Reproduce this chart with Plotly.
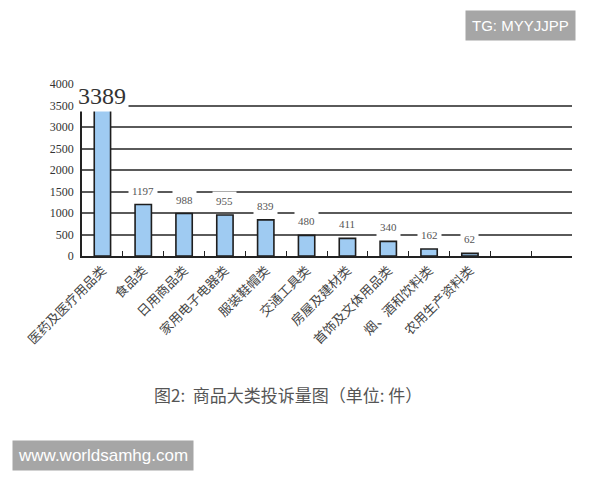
import plotly.graph_objects as go

categories = ["医药及医疗用品类", "食品类", "日用商品类", "家用电子电器类", "服装鞋帽类",
              "交通工具类", "房屋及建材类", "首饰及文体用品类", "烟、酒和饮料类", "农用生产资料类"]
values = [3389, 1197, 988, 955, 839, 480, 411, 340, 162, 62]
empty_slots = [" ", "  "]
y_ticks = [0, 500, 1000, 1500, 2000, 2500, 3000, 3500, 4000]
caption = "图2:  商品大类投诉量图（单位: 件）"
watermark_top = "TG: MYYJJPP"
watermark_bottom = "www.worldsamhg.com"

all_cats = categories + empty_slots
all_vals = values + [None] * len(empty_slots)

fig = go.Figure()
fig.add_trace(go.Bar(
    x=all_cats, y=all_vals, width=0.4,
    marker=dict(color="#9fcbf2", line=dict(color="#1e1e1e", width=1.6)),
    hoverinfo="skip",
))

serif = "Liberation Serif, DejaVu Serif, serif"
cjk = "Noto Sans CJK SC"

max_v = max(values)
for c, v in zip(categories, values):
    big = v == max_v
    fig.add_annotation(
        x=c, y=v, xref="x", yref="y",
        text=str(v), showarrow=False,
        xanchor="center", yanchor="middle", yshift=14,
        font=dict(family=serif, size=24 if big else 11, color="#333" if big else "#555"),
        bgcolor="white", borderpad=2 if big else 3,
    )

fig.add_annotation(
    x=0.42, y=-0.808, xref="paper", yref="paper", text=caption, showarrow=False,
    xanchor="center", yanchor="middle",
    font=dict(family=cjk, size=17, color="#555"),
)
fig.add_annotation(
    x=0.894, y=1.343, xref="paper", yref="paper", text=watermark_top, showarrow=False,
    xanchor="center", yanchor="middle",
    font=dict(family="Liberation Sans, Arial, sans-serif", size=15, color="white"),
    bgcolor="#a6a6a6", borderpad=6,
)
fig.add_annotation(
    x=0.043, y=-1.157, xref="paper", yref="paper", text=watermark_bottom, showarrow=False,
    xanchor="center", yanchor="middle",
    font=dict(family="Liberation Sans, Arial, sans-serif", size=17, color="white"),
    bgcolor="#a6a6a6", borderpad=5,
)

fig.update_layout(
    width=600, height=480,
    margin=dict(l=74, r=36, t=76, b=232),
    paper_bgcolor="white", plot_bgcolor="white",
    showlegend=False,
    xaxis=dict(
        type="category", categoryorder="array", categoryarray=all_cats,
        range=[-0.5, len(all_cats) - 0.5],
        tickangle=-45, tickson="boundaries", ticks="inside", ticklen=5,
        tickcolor="#222", tickwidth=1.2,
        showline=True, linecolor="#222", linewidth=1.5,
        showgrid=False, automargin=False,
        tickfont=dict(family=cjk, size=13, color="#444"),
    ),
    yaxis=dict(
        range=[0, 4000], tickvals=y_ticks, ticks="",
        showline=True, linecolor="#222", linewidth=1.5,
        showgrid=True, gridcolor="#5a5a5a", gridwidth=1.5,
        zeroline=False, automargin=False, ticklabelstandoff=4,
        tickfont=dict(family=serif, size=12, color="#333"),
    ),
)

fig.write_html("out.html")
